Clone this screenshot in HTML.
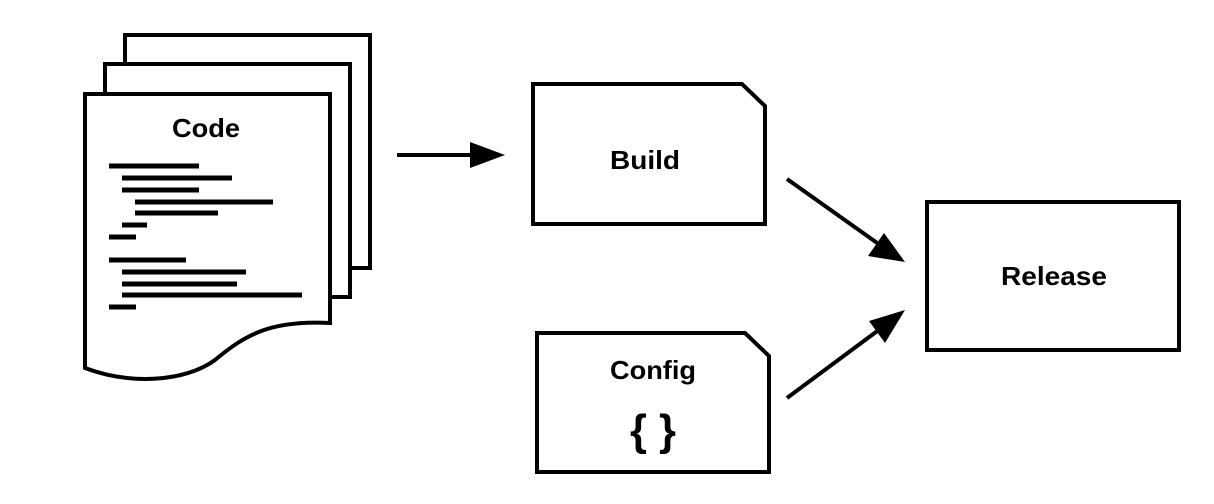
<!DOCTYPE html>
<html><head><style>html,body{margin:0;padding:0;background:#fff;}svg{display:block}</style></head><body>
<svg width="1214" height="504" viewBox="0 0 1214 504" xmlns="http://www.w3.org/2000/svg" font-family="Liberation Sans, sans-serif" font-weight="bold">
<g fill="#fff" stroke="#000" stroke-width="4" stroke-linejoin="miter">
<rect x="125" y="35" width="245" height="233"/>
<rect x="105" y="64" width="245" height="233"/>
<path d="M85,94 H330 V323 C270,320 245,335 215,360 C185,382 130,385 85,368 Z"/>
<path d="M533,84 H742 L765,106 V224 H533 Z"/>
<path d="M537,333 H745 L769,356 V472 H537 Z"/>
<rect x="927" y="202" width="252" height="148"/>
</g>
<g stroke="#000" stroke-width="5">
<line x1="109" y1="166" x2="199" y2="166"/>
<line x1="122" y1="178" x2="232" y2="178"/>
<line x1="122" y1="190" x2="199" y2="190"/>
<line x1="135" y1="202" x2="273" y2="202"/>
<line x1="135" y1="213" x2="218" y2="213"/>
<line x1="122" y1="225" x2="147" y2="225"/>
<line x1="109" y1="237" x2="136" y2="237"/>
<line x1="109" y1="260" x2="186" y2="260"/>
<line x1="122" y1="272" x2="246" y2="272"/>
<line x1="122" y1="284" x2="237" y2="284"/>
<line x1="122" y1="295" x2="302" y2="295"/>
<line x1="109" y1="307" x2="136" y2="307"/>
</g>
<g stroke="#000" stroke-width="4" fill="none">
<line x1="397" y1="155" x2="472" y2="155"/>
<line x1="787" y1="179" x2="880" y2="245"/>
<line x1="787" y1="398" x2="880" y2="329"/>
</g>
<g fill="#000">
<path d="M505,155 L470,142 L470,168 Z"/>
<path d="M905,262 L868,256 L884,233 Z"/>
<path d="M905,310 L885,343 L869,321 Z"/>
</g>
<g font-size="26" text-anchor="middle" fill="#000">
<text x="206" y="137" textLength="68" lengthAdjust="spacingAndGlyphs">Code</text>
<text x="645" y="169" textLength="70" lengthAdjust="spacingAndGlyphs">Build</text>
<text x="653" y="379" textLength="86" lengthAdjust="spacingAndGlyphs">Config</text>
<text x="1054" y="285" textLength="106" lengthAdjust="spacingAndGlyphs">Release</text>
<text x="653" y="445" font-size="44" textLength="46" lengthAdjust="spacingAndGlyphs">{ }</text>
</g>
</svg>
</body></html>
